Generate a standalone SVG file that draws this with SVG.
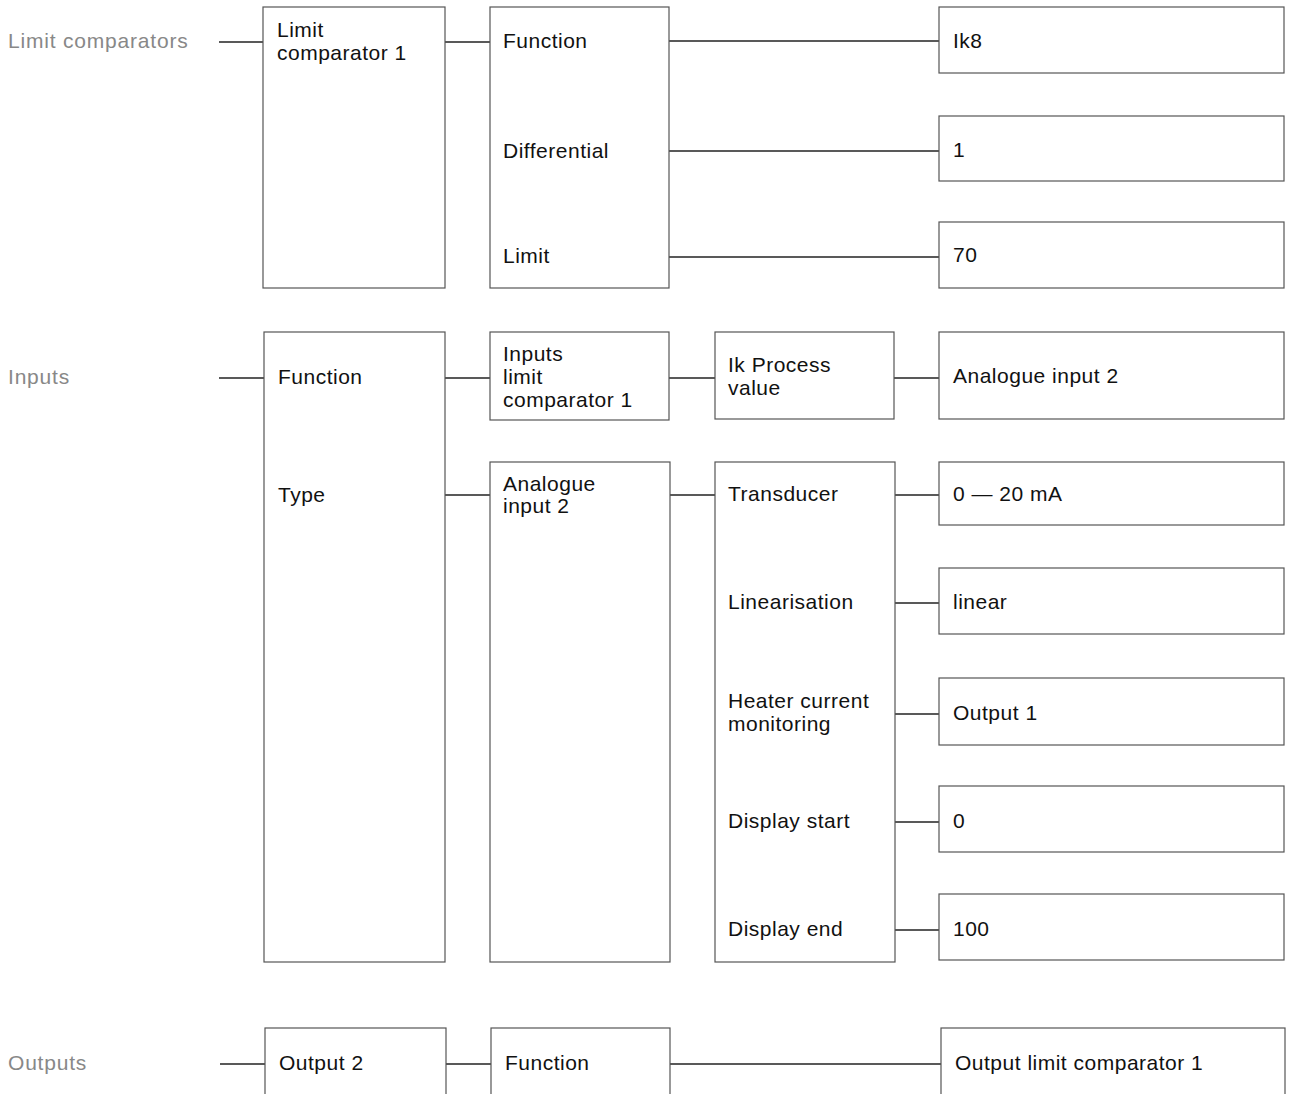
<svg xmlns="http://www.w3.org/2000/svg" width="1293" height="1094" viewBox="0 0 1293 1094">
<style>
text{font-family:"Liberation Sans",Arial,sans-serif;font-size:21px;letter-spacing:0.5px;fill:#111;dominant-baseline:central}
.side{fill:#888;letter-spacing:0.8px}
.box{fill:#fff;stroke:#555;stroke-width:1.2}
.con line{stroke:#222;stroke-width:1.5}
</style>
<rect width="1293" height="1094" fill="#fff"/>
<g id="labels">
<text class="side" x="8" y="40">Limit comparators</text>
<text class="side" x="8" y="376">Inputs</text>
<text class="side" x="8" y="1062">Outputs</text>
</g>
<g class="con" id="connectors">
<line x1="219" y1="42" x2="263" y2="42"/>
<line x1="445" y1="42" x2="490" y2="42"/>
<line x1="669" y1="41" x2="939" y2="41"/>
<line x1="669" y1="151" x2="939" y2="151"/>
<line x1="669" y1="257" x2="939" y2="257"/>
<line x1="219" y1="378" x2="264" y2="378"/>
<line x1="445" y1="378" x2="490" y2="378"/>
<line x1="445" y1="495" x2="490" y2="495"/>
<line x1="669" y1="378" x2="715" y2="378"/>
<line x1="894" y1="378" x2="939" y2="378"/>
<line x1="670" y1="495" x2="715" y2="495"/>
<line x1="895" y1="495" x2="939" y2="495"/>
<line x1="895" y1="603" x2="939" y2="603"/>
<line x1="895" y1="714" x2="939" y2="714"/>
<line x1="895" y1="822" x2="939" y2="822"/>
<line x1="895" y1="930" x2="939" y2="930"/>
<line x1="220" y1="1064" x2="265" y2="1064"/>
<line x1="446" y1="1064" x2="491" y2="1064"/>
<line x1="670" y1="1064" x2="941" y2="1064"/>
</g>
<g id="n-lc1"><rect class="box" x="263" y="7" width="182" height="281"/><text x="277" y="29">Limit</text><text x="277" y="52">comparator 1</text></g>
<g id="n-lc-params"><rect class="box" x="490" y="7" width="179" height="281"/><text x="503" y="40">Function</text><text x="503" y="150">Differential</text><text x="503" y="255">Limit</text></g>
<g id="n-ik8"><rect class="box" x="939" y="7" width="345" height="66"/><text x="953" y="40">Ik8</text></g>
<g id="n-diff"><rect class="box" x="939" y="116" width="345" height="65"/><text x="953" y="149">1</text></g>
<g id="n-limit"><rect class="box" x="939" y="222" width="345" height="66"/><text x="953" y="254">70</text></g>
<g id="n-inputs"><rect class="box" x="264" y="332" width="181" height="630"/><text x="278" y="376">Function</text><text x="278" y="494">Type</text></g>
<g id="n-inlc"><rect class="box" x="490" y="332" width="179" height="88"/><text x="503" y="353">Inputs</text><text x="503" y="376">limit</text><text x="503" y="399">comparator 1</text></g>
<g id="n-ikpv"><rect class="box" x="715" y="332" width="179" height="87"/><text x="728" y="364">Ik Process</text><text x="728" y="387">value</text></g>
<g id="n-ai2val"><rect class="box" x="939" y="332" width="345" height="87"/><text x="953" y="375">Analogue input 2</text></g>
<g id="n-ai2"><rect class="box" x="490" y="462" width="180" height="500"/><text x="503" y="483">Analogue</text><text x="503" y="505">input 2</text></g>
<g id="n-ai2params"><rect class="box" x="715" y="462" width="180" height="500"/><text x="728" y="493">Transducer</text><text x="728" y="601">Linearisation</text><text x="728" y="700">Heater current</text><text x="728" y="723">monitoring</text><text x="728" y="820">Display start</text><text x="728" y="928">Display end</text></g>
<g id="n-trans"><rect class="box" x="939" y="462" width="345" height="63"/><text x="953" y="493">0 — 20 mA</text></g>
<g id="n-lin"><rect class="box" x="939" y="568" width="345" height="66"/><text x="953" y="601">linear</text></g>
<g id="n-heat"><rect class="box" x="939" y="678" width="345" height="67"/><text x="953" y="712">Output 1</text></g>
<g id="n-dstart"><rect class="box" x="939" y="786" width="345" height="66"/><text x="953" y="820">0</text></g>
<g id="n-dend"><rect class="box" x="939" y="894" width="345" height="66"/><text x="953" y="928">100</text></g>
<g id="n-out2"><rect class="box" x="265" y="1028" width="181" height="80"/><text x="279" y="1062">Output 2</text></g>
<g id="n-outfn"><rect class="box" x="491" y="1028" width="179" height="80"/><text x="505" y="1062">Function</text></g>
<g id="n-outlc"><rect class="box" x="941" y="1028" width="344" height="80"/><text x="955" y="1062">Output limit comparator 1</text></g>
</svg>
